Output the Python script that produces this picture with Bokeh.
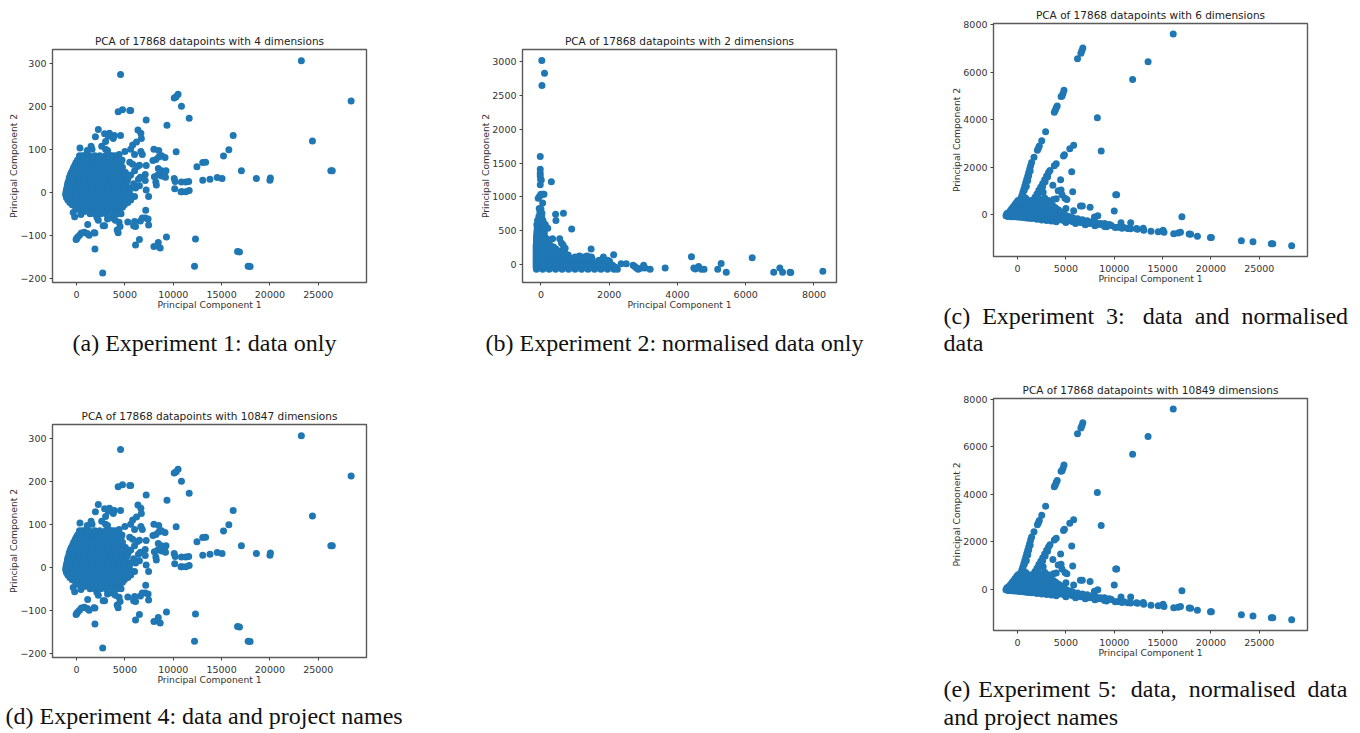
from bokeh.plotting import figure
from bokeh.layouts import column, row
from bokeh.models import Label, FixedTicker, Range1d, Spacer
from bokeh.embed import file_html
from bokeh.resources import INLINE

BLUE = "#1f77b4"
X_LABEL = "Principal Component 1"
Y_LABEL = "Principal Component 2"

# --- data only (Experiments 1 and 4) -------------------------------------
RAW_OUTLIERS = [
    (23250,306),(28400,212),(24400,119),(26300,50),(26450,50),(20050,33),(20000,28),(18600,32),(17050,50),
    (16200,132),(15750,99),(15200,84),(15050,32),(14550,34),(13800,30),(13050,28),(13050,69),(13350,70),
    (12450,59),(11650,172),(10850,200),(10500,228),(10300,222),(10100,219),(9350,156),(7200,168),(5600,190),
    (5500,190),(4750,192),(4300,187),(4550,274),(10300,94),(9150,81),(8000,100),(8500,97),(8450,55),(8800,50),
    (9250,50),(9200,35),(8800,38),(8400,40),(8050,36),(8200,24),(8250,17),(9100,38),(10100,32),(10200,25),
    (10150,8),(10800,1),(10900,1),(11300,1),(11650,4),(10850,24),(11300,24),(11600,25),(7200,5),(7450,-10),
    (7100,27),(7200,62),(7100,41),(6500,63),(7900,74),(8200,76),(8500,82),(8800,85),
    (7150,-42),(7100,-60),(6800,-60),(7400,-62),(7450,-76),(6600,-67),(6000,-68),(6100,-80),(5900,-78),
    (5300,-69),(4400,-70),(4500,-80),(4300,-94),(4200,-88),(9300,-104),(8450,-117),(8000,-126),(8400,-125),
    (8650,-130),(6500,-110),(6100,-123),(12300,-109),(12200,-172),(16650,-138),(16850,-139),(17750,-172),
    (17950,-173),(2700,-188),(1900,-132),(1800,-94),(1900,-95),(1150,-75),(1300,-100),(1100,-96),(800,-93),
    (500,-95),(300,-100),(100,-105),(0,-108),(-50,-110),(2750,-78),(2900,-78),(2250,-65),(450,-52),(-200,-57),
    (-350,-47),(350,103),(1950,129),(2250,146),(2900,136),(3400,137),(3300,130),(3900,132),(4550,132),
    (3800,125),(3000,118),(2600,107),(1500,107),(1600,100),(1100,97),(3000,100),(3200,97),(3650,85),(4400,88),
    (5000,95),(5600,100),(5800,110),(6200,117),(6350,145),(6650,137),(6700,125),(6000,88),(6650,95),(6800,88),
    (4700,75),(5500,70),(5800,65),(6300,60),(600,85),(5600,40),(6000,50),(6400,30),(5900,20),(6500,15),
    (6000,-10),(5700,-10),(6600,35),(6100,10),(5400,-18),(2100,-58),(3200,-62),(3700,-60),(4000,-65),
]
RAW_ROW_Y = [85,80,75,69,64,58,52,46,40,34,28,22,16,10,5,0,-6,-12,-18,-24,-29,-35,-40,-45,-50]
RAW_ROW_X = [
    [300,800,1300,1900,2400,3000,3500,3950],
    [500,1050,1600,2150,2700,3250,3700,4150],
    [100,650,1150,1750,2250,2800,3300,3900,4300],
    [-50,500,1050,1600,2350,2900,3500,4050,4600],
    [-150,400,950,1500,2050,2650,3200,3750,4350],
    [-300,250,800,1350,1950,2550,3100,3650,4250,4750],
    [-400,150,700,1250,1800,2400,2950,3500,4050,4600],
    [-550,0,550,1150,1700,2300,2850,3400,3950,4500,5050],
    [-650,-100,450,1000,1550,2150,2700,3250,3800,4350,4950],
    [-750,-200,350,900,1450,2050,2600,3150,3700,4250,4800,5350],
    [-800,-300,250,800,1350,1900,2450,3000,3550,4100,4650,5250],
    [-900,-350,200,750,1300,1850,2400,2950,3500,4050,4600,5150],
    [-950,-450,100,650,1200,1750,2300,2850,3400,3950,4500,5050],
    [-1000,-500,50,600,1150,1700,2250,2800,3350,3900,4450,5000,5500],
    [-1050,-550,0,550,1100,1650,2200,2750,3300,3850,4400,4950,5450],
    [-1100,-600,-50,500,1050,1600,2150,2700,3250,3800,4350,4900,5450],
    [-1130,-650,-100,450,1000,1550,2100,2650,3200,3750,4300,4850,5400],
    [-1050,-550,0,550,1100,1650,2200,2750,3300,3850,4400,4950,5500],
    [-900,-400,150,700,1250,1800,2350,2900,3450,4000,4550,5100,5600],
    [-700,-200,400,950,1500,2050,2600,3150,3700,4250,4800,5300],
    [-450,100,650,1200,1750,2300,2850,3400,3950,4500,4950],
    [-100,400,950,1500,2050,2600,3150,3700,4250,4750],
    [200,750,1300,1850,2400,2950,3500,4050,4450],
    [800,1600,2150,2700,3250,3800,4300],
    [1400,1900,2500,3050,3700,4200,4600],
]

# --- normalised data only (Experiment 2) ---------------------------------
NORM_OUTLIERS = [
    (25,3020),(105,2830),(30,2650),(-20,1600),(-20,1410),(-20,1350),(-20,1310),(-10,1260),(10,1250),(-20,1180),
    (305,1225),(-80,980),(-40,1010),(0,1040),(50,1040),(90,1040),(50,910),(-50,830),(0,820),(-30,770),(30,760),
    (430,745),(660,760),(440,650),(900,525),(-120,590),(-50,600),(100,600),(130,590),(200,535),(340,380),(550,380),
    (600,320),(650,290),(710,240),(1470,230),(1830,110),(2130,145),(1480,110),(1500,60),(2350,10),(2500,10),
    (2700,-10),(2750,-30),(2800,-50),(2850,-70),(2950,-50),(3010,-10),(3050,-50),(3200,-70),(3640,-50),(4410,115),
    (4480,-50),(4520,-65),(4620,-30),(4700,-70),(4780,-70),(5180,-70),(5280,15),(5430,-115),(6190,100),(6820,-115),
    (7000,-50),(7080,-115),(7300,-115),(7320,-118),(8260,-100),
]
NORM_ROW_Y = [-70,-55,-40,-10,5,20,50,65,80,95,110,125,140,155,170,200,230,260,290,320,350,380,410,440,470,500,530,650,710]
NORM_ROW_X = [
    [-130,50,240,430,620,810,1000,1190,1380,1570,1760,1950,2140,2240],
    [40,230,430,620,810,1000,1190,1380,1570,1760,1950,2150],
    [-140,140,330,520,710,900,1090,1280,1470,1660,1850,2040,2180],
    [-140,40,230,420,610,800,990,1180,1370,1560,1750,1940,2100],
    [50,240,430,620,810,1000,1190,1380,1570,1760,1950],
    [-140,130,320,510,700,890,1080,1270,1460,1650,1840,2020],
    [-140,40,220,400,590,780,970,1160,1350,1440,1880,2010],
    [50,260,450,640,830,1020,1210,1400,1700,1950],
    [-140,130,310,490,680,870,1060,1250,1400,1500],
    [120,300,480,660,830,1100,1330,1450],
    [-140,20,190,370,560,720,1000,1260,1410],
    [90,270,450,640,780,1130,1350],
    [-140,100,280,460,640,800],
    [90,250,420,580,720],
    [-140,10,170,340,500,650],
    [-140,90,250,420,570],
    [-140,0,150,300,440],
    [-140,70,220,370],
    [-140,-10,130,270],
    [-130,60,200],
    [-130,-10,120,220],
    [-130,50,170],
    [-130,0,110],
    [-120,50],
    [-120,10,100],
    [-110,40],
    [-110,0,60],
    [-100,-10,60],
    [-60,20],
]

# --- data and normalised data (Experiments 3 and 5) ----------------------
BOTH_OUTLIERS = [
    (16100,7600),(13500,6440),(11900,5690),(6750,7020),(6650,6900),(6550,6800),(6200,6560),(8250,4080),(8650,2690),
    (4800,5240),(4700,5100),(4600,5000),(4500,4980),(4100,4580),(4000,4500),(3900,4400),(3800,4320),(2900,3500),
    (2500,3120),(2250,2900),(2150,2800),(2050,2720),(1700,2420),(5800,2930),(5400,2780),(4850,2530),(4750,2480),
    (4000,2150),(3800,2070),(5600,1820),(4450,1480),(3650,1250),(4500,1050),(4200,1020),(5700,980),(10250,850),
    (10150,850),(17000,-70),(10000,170),(7500,320),(6700,380),(6500,380),(8300,-30),(7950,-90),(5800,180),(5000,270),
    (2650,950),(4600,850),(4900,700),(5100,650),(4000,680),(3700,650),(2100,780),(2800,700),
    (9200,-500),(9000,-480),(10100,-530),(10400,-520),(10800,-560),(10700,-330),(11000,-530),(11400,-570),(11700,-330),
    (11700,-580),(12300,-570),(12400,-600),(13000,-560),(13050,-640),(13800,-680),(14550,-700),(15050,-640),(15150,-730),
    (16150,-790),(16600,-760),(16850,-730),(17750,-800),(17900,-810),(18600,-890),(19950,-950),(20050,-950),(23150,-1080),
    (24350,-1130),(26250,-1210),(26400,-1210),(28350,-1290),
    (1450,2200),(1350,2070),(1250,1930),(1150,1780),(1050,1640),(950,1500),(850,1360),(750,1220),(650,1080),(550,950),
    (450,820),(350,680),(250,560),(150,430),(50,300),(-50,200),
    (3350,1870),(3200,1780),(3000,1640),(2800,1480),(2600,1320),(2400,1180),(2200,1040),(2000,880),(1800,740),(1600,600),
    (1400,480),(1200,350),
    (1300,1850),(1150,1650),(1000,1450),(850,1250),(700,1050),(550,850),(400,650),(250,450),(1050,1450),(900,1200),
    (3100,1600),(2850,1400),(2600,1200),(2350,1000),(2100,800),(1850,620),(1600,440),
    (-1200,-30),(-1100,60),(-1000,-60),(-800,-60),(-600,-70),(-300,-80),(0,-90),(300,-100),(600,-110),(900,-130),
    (1200,-140),(1500,-150),(2000,-180),(2500,-210),(3000,-230),(3500,-250),(4000,-280),(5000,-320),(6000,-360),
    (7000,-410),(8000,-450),
]
BOTH_ROW_Y = [-440,-400,-360,-320,-280,-240,-200,-160,-120,-80,-40,0,60,130,210,290,370,450,530,610,700]
BOTH_ROW_X = [
    [9200,9700],
    [8300,8700,9100,9500],
    [7400,7800,8200,8600,9000],
    [6500,6900,7300,7700,8100],
    [5700,6100,6500,6900,7300,7700],
    [4800,5200,5600,6000,6400,6800,7200],
    [3900,4300,4700,5100,5500,5900,6300,6700],
    [3000,3400,3800,4200,4600,5000,5400,5800,6200],
    [2100,2500,2900,3300,3700,4100,4500,4900,5300,5700],
    [1200,1600,2000,2400,2800,3200,3600,4000,4400,4800,5200,5500],
    [300,700,1100,1500,1900,2300,2700,3100,3500,3900,4300,4700,5100],
    [-1150,-700,-250,200,600,1000,1400,1800,2200,2600,3000,3400,3800,4200,4800],
    [-1000,-550,-100,350,800,1250,1700,2150,2600,3050,3500,3950,4400,4800],
    [-850,-400,50,500,950,1400,1850,2300,2750,3200,3650,4100,4500],
    [-700,-250,200,650,1100,1550,2000,2450,2900,3350,3800,4250],
    [-550,-100,350,800,1250,1700,2150,2600,3050,3500,3950],
    [-400,50,500,950,1400,1850,2300,2750,3200,3700],
    [-250,200,650,1100,1550,2000,2450,2900,3350],
    [-100,350,800,1250,1700,2150,2600,3100],
    [50,500,950,1400,1850,2300,2800,3150],
    [350,850,2100,2800],
]

X_TICKS_WIDE = [0,5000,10000,15000,20000,25000]
X_TICKS_NORM = [0,2000,4000,6000,8000]
Y_TICKS_RAW = [-200,-100,0,100,200,300]
Y_TICKS_NORM = [0,500,1000,1500,2000,2500,3000]
Y_TICKS_BOTH = [0,2000,4000,6000,8000]


def panel(title, outliers, row_y, row_x, x_range, y_range, x_ticks, y_ticks, size, borders, captions):
    left, top, right, bottom = borders
    p = figure(width=size[0], height=size[1],
               output_backend="svg", toolbar_location=None,
               x_range=Range1d(*x_range), y_range=Range1d(*y_range),
               min_border_left=left, min_border_top=top, min_border_right=right, min_border_bottom=bottom)
    xs = [q[0] for q in outliers] + [x for xr in row_x for x in xr]
    ys = [q[1] for q in outliers] + [y for y, xr in zip(row_y, row_x) for _ in xr]
    p.scatter(xs, ys, size=7, fill_color=BLUE, line_color=None)
    p.grid.visible = False
    p.title.text = title
    p.title.text_font = "DejaVu Sans"
    p.title.text_font_size = "10.5px"
    p.title.text_font_style = "normal"
    p.title.text_color = "#222222"
    p.title.align = "center"
    p.title.standoff = 5
    p.outline_line_color = "#5a5a5a"
    p.outline_line_width = 1.4
    p.xaxis.axis_label = X_LABEL
    p.yaxis.axis_label = Y_LABEL
    p.xaxis.ticker = FixedTicker(ticks=x_ticks)
    p.yaxis.ticker = FixedTicker(ticks=y_ticks)
    p.yaxis.major_label_overrides = {v: "\u2212" + str(-v) for v in y_ticks if v < 0}
    for ax in (p.xaxis[0], p.yaxis[0]):
        ax.axis_label_text_font = "DejaVu Sans"
        ax.axis_label_text_font_size = "9.2px"
        ax.axis_label_text_font_style = "normal"
        ax.axis_label_text_color = "#333333"
        ax.major_label_text_font = "DejaVu Sans"
        ax.major_label_text_font_size = "9.5px"
        ax.major_label_text_color = "#333333"
        ax.major_tick_in = 0
        ax.major_tick_out = 3
        ax.major_tick_line_color = "#444444"
        ax.minor_tick_line_color = None
        ax.axis_line_color = None
    p.xaxis[0].major_label_standoff = 5
    p.xaxis[0].axis_label_standoff = -2
    p.yaxis[0].major_label_standoff = 3
    p.yaxis[0].axis_label_standoff = -2
    p.yaxis[0].major_label_orientation = "horizontal"
    for text, sx, sy in captions:
        p.add_layout(Label(x=sx, y=sy, x_units="screen", y_units="screen", text=text,
                           text_font="Liberation Serif", text_font_size="24px", text_align="left",
                           text_baseline="alphabetic", text_color="#111111"), "below")
    return p


RAW_X = (-2490, 29990)
a = panel("PCA of 17868 datapoints with 4 dimensions", RAW_OUTLIERS, RAW_ROW_Y, RAW_ROW_X,
          RAW_X, (-210, 332), X_TICKS_WIDE, Y_TICKS_RAW, (470, 375), (52, 49, 104, 93),
          [("(a) Experiment 1: data only", 20, -4)])
b = panel("PCA of 17868 datapoints with 2 dimensions", NORM_OUTLIERS, NORM_ROW_Y, NORM_ROW_X,
          (-540, 8660), (-266, 3182), X_TICKS_NORM, Y_TICKS_NORM, (470, 375), (52, 49, 104, 93),
          [("(b) Experiment 2: normalised data only", -37, -4)])
c = panel("PCA of 17868 datapoints with 6 dimensions", BOTH_OUTLIERS, BOTH_ROW_Y, BOTH_ROW_X,
          RAW_X, (-1745, 8045), X_TICKS_WIDE, Y_TICKS_BOTH, (420, 375), (53, 23, 53, 119),
          [("(c)\u2002Experiment\u20023:\u2002\u2005data\u2002and\u2002normalised", -50, -3), ("data", -50, -4)])
d = panel("PCA of 17868 datapoints with 10847 dimensions", RAW_OUTLIERS, RAW_ROW_Y, RAW_ROW_X,
          RAW_X, (-210, 332), X_TICKS_WIDE, Y_TICKS_RAW, (470, 358), (52, 49, 104, 76),
          [("(d) Experiment 4: data and project names", -47, -2)])
e = panel("PCA of 17868 datapoints with 10849 dimensions", BOTH_OUTLIERS, BOTH_ROW_Y, BOTH_ROW_X,
          RAW_X, (-1745, 8045), X_TICKS_WIDE, Y_TICKS_BOTH, (420, 358), (53, 23, 53, 103),
          [("(e)\u2004Experiment\u20045:\u2002\u200adata,\u2002normalised\u2002data", -50, -2),
           ("and project names", -50, -4)])

layout = row(column(a, d), column(b, Spacer(width=470, height=358)), column(c, e))
open("out.html", "w").write(file_html(layout, INLINE))
